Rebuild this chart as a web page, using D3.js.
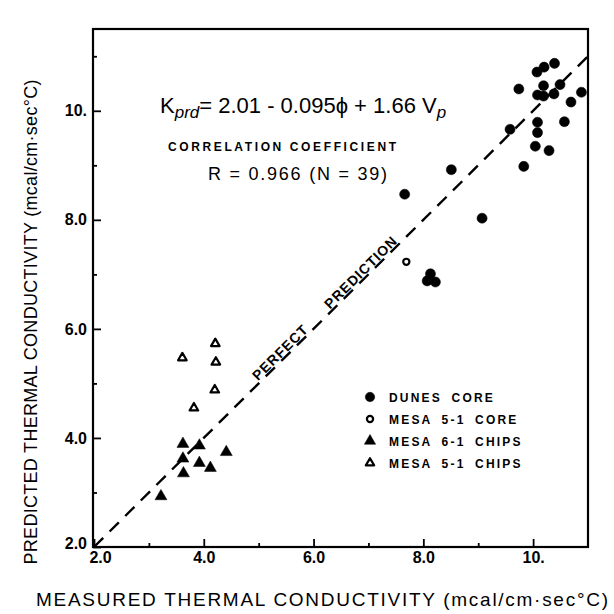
<!DOCTYPE html>
<html>
<head>
<meta charset="utf-8">
<script src="https://cdn.jsdelivr.net/npm/d3@7"></script>
<style>
  body { margin: 0; background: #fff; }
  svg { display: block; }
  text { font-family: "Liberation Sans", Arial, sans-serif; fill: #000; }
</style>
</head>
<body>
<svg id="chart" width="614" height="614"></svg>
<script>
// ---------- data ----------
const dunesX = [10.07,10.20,10.39,9.74,10.19,10.49,10.08,10.19,10.38,10.88,10.69,9.58,10.08,10.08,10.57,10.04,10.29,9.83,8.51,7.66,9.07,8.13,8.07,8.22];
const dunesY = [10.71,10.80,10.87,10.40,10.46,10.48,10.29,10.27,10.31,10.34,10.16,9.66,9.79,9.60,9.80,9.35,9.27,8.98,8.92,8.47,8.03,7.01,6.88,6.86];
const mesa51CoreX = [7.69];
const mesa51CoreY = [7.23];
const mesa61ChipsX = [3.62,3.92,4.41,3.62,3.92,4.12,3.63,3.22];
const mesa61ChipsY = [3.89,3.86,3.74,3.62,3.54,3.45,3.35,2.93];
const mesa51ChipsX = [4.21,3.61,4.22,4.20,3.82];
const mesa51ChipsY = [5.73,5.47,5.39,4.88,4.55];

const majorTicks = [2, 4, 6, 8, 10];
const majorTickLabels = ["2.0", "4.0", "6.0", "8.0", "10."];
const minorTicksX = [3, 5, 7, 9];
const minorTicksY = [3, 5, 7, 9, 11];
const legendLabels = ["DUNES CORE", "MESA 5-1 CORE", "MESA 6-1 CHIPS", "MESA 5-1 CHIPS"];
const xTitle = "MEASURED THERMAL CONDUCTIVITY  (mcal/cm·sec°C)";
const yTitle = "PREDICTED THERMAL CONDUCTIVITY  (mcal/cm·sec°C)";

// ---------- layout ----------
const svg = d3.select("#chart");
const L = 93, R = 588, T = 29, B = 547;
const x = d3.scaleLinear().domain([2, 11]).range([L + 1, R]);
const y = d3.scaleLinear().domain([2, 11.5]).range([B, T]);

// frame
svg.append("rect").attr("x", L).attr("y", T).attr("width", R - L).attr("height", B - T)
  .attr("fill", "none").attr("stroke", "#000").attr("stroke-width", 2.2);

const fmt = d => majorTickLabels[majorTicks.indexOf(d)];

function styleAxis(g) {
  g.select(".domain").remove();
  g.selectAll(".tick line").attr("stroke", "#000").attr("stroke-width", 1.8);
  g.selectAll(".tick text").attr("font-size", 16).attr("font-weight", "bold")
    .attr("font-family", "Liberation Sans, Arial, sans-serif").attr("fill", "#000");
}

const xAx = svg.append("g").attr("transform", `translate(0,${B})`)
  .call(d3.axisBottom(x).tickValues(majorTicks).tickFormat(fmt).tickSize(-8).tickPadding(5))
  .call(styleAxis);
xAx.selectAll(".tick text").filter(d => d === 2).attr("dx", 6);
svg.append("g").attr("transform", `translate(0,${B})`)
  .call(d3.axisBottom(x).tickValues(minorTicksX).tickFormat("").tickSize(-4))
  .call(styleAxis);
const yAx = svg.append("g").attr("transform", `translate(${L},0)`)
  .call(d3.axisLeft(y).tickValues(majorTicks).tickFormat(fmt).tickSize(-8).tickPadding(6))
  .call(styleAxis);
yAx.selectAll(".tick text").filter(d => d === 2).attr("dy", "0.1em");
svg.append("g").attr("transform", `translate(${L},0)`)
  .call(d3.axisLeft(y).tickValues(minorTicksY).tickFormat("").tickSize(-4))
  .call(styleAxis);

// axis titles
svg.append("text").attr("x", 322).attr("y", 606).attr("text-anchor", "middle")
  .attr("font-size", 19).attr("textLength", 572).attr("lengthAdjust", "spacing")
  .text(xTitle);
svg.append("text").attr("transform", "translate(37,322) rotate(-90)").attr("text-anchor", "middle")
  .attr("font-size", 18).attr("textLength", 485).attr("lengthAdjust", "spacing")
  .text(yTitle);

// perfect prediction line
svg.append("line")
  .attr("x1", x(2)).attr("y1", y(2)).attr("x2", x(11)).attr("y2", y(11))
  .attr("stroke", "#000").attr("stroke-width", 2.4).attr("stroke-dasharray", "13,9");

const angle = Math.atan2(y(11) - y(2), x(11) - x(2)) * 180 / Math.PI;
[["PERFECT", 5.48], ["PREDICTION", 6.95]].forEach(([t, v]) => {
  svg.append("text")
    .attr("transform", `translate(${x(v)},${y(v)}) rotate(${angle})`)
    .attr("text-anchor", "middle").attr("dy", -2)
    .attr("font-size", 14).attr("font-weight", "bold").attr("letter-spacing", 1)
    .text(t);
});

// annotation text
const eq = svg.append("text").attr("x", 160).attr("y", 113).attr("font-size", 22);
eq.append("tspan").text("K");
eq.append("tspan").attr("font-size", 17).attr("font-style", "italic").attr("dy", 5).text("prd");
eq.append("tspan").attr("dy", -5).text("= 2.01 - 0.095\u03D5 + 1.66 V");
eq.append("tspan").attr("font-size", 17).attr("font-style", "italic").attr("dy", 5).text("p");

svg.append("text").attr("x", 168).attr("y", 151).attr("font-size", 12).attr("font-weight", "bold")
  .attr("textLength", 228).attr("lengthAdjust", "spacing").text("CORRELATION COEFFICIENT");
svg.append("text").attr("x", 208).attr("y", 180).attr("font-size", 18)
  .attr("textLength", 179).attr("lengthAdjust", "spacing").text("R = 0.966  (N = 39)");

// markers
const sym = (type, size) => d3.symbol().type(type).size(size)();
function plot(xs, ys, type, size, filled) {
  svg.append("g").selectAll("path").data(xs.map((v, i) => [v, ys[i]])).join("path")
    .attr("transform", d => `translate(${x(d[0])},${y(d[1])})`)
    .attr("d", sym(type, size))
    .attr("fill", filled ? "#000" : "#fff")
    .attr("stroke", "#000").attr("stroke-width", filled ? 0.5 : 2.2)
    .attr("stroke-linejoin", "round");
}
plot(dunesX, dunesY, d3.symbolCircle, 80, true);
plot(mesa51CoreX, mesa51CoreY, d3.symbolCircle, 30, false);
plot(mesa61ChipsX, mesa61ChipsY, d3.symbolTriangle, 62, true);
plot(mesa51ChipsX, mesa51ChipsY, d3.symbolTriangle, 32, false);

// legend
const legendTypes = [[d3.symbolCircle, 70, true], [d3.symbolCircle, 30, false], [d3.symbolTriangle, 55, true], [d3.symbolTriangle, 30, false]];
const legendRowY = d3.scalePoint().domain(legendLabels).range([397, 463]);
legendLabels.forEach((lab, i) => {
  const [type, size, filled] = legendTypes[i];
  const yy = legendRowY(lab);
  svg.append("path").attr("transform", `translate(370,${yy})`).attr("d", sym(type, size))
    .attr("fill", filled ? "#000" : "#fff").attr("stroke", "#000")
    .attr("stroke-width", filled ? 0.5 : 2.2).attr("stroke-linejoin", "round");
  svg.append("text").attr("x", 389).attr("y", yy + 4.5).attr("font-size", 12).attr("font-weight", "bold")
    .attr("letter-spacing", 2.2).attr("word-spacing", 4).text(lab);
});
</script>
</body>
</html>
